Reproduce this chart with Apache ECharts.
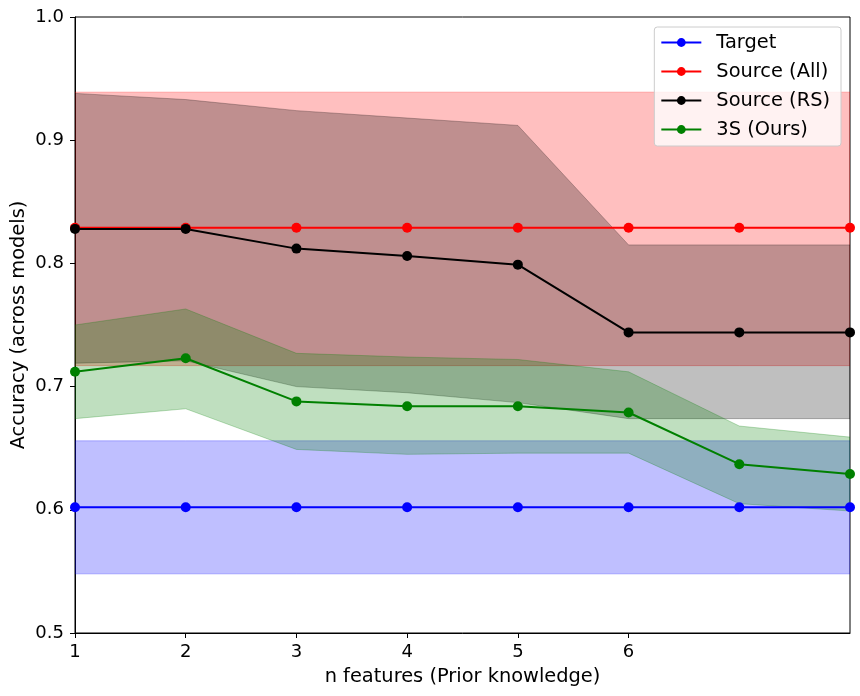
<!DOCTYPE html>
<html>
<head>
<meta charset="utf-8">
<script src="https://cdn.jsdelivr.net/npm/echarts@6/dist/echarts.min.js"></script>
<style>
html, body { margin: 0; padding: 0; background: #fff; }
#main { width: 860px; height: 696px; }
</style>
</head>
<body>
<div id="main"></div>
<script>
var chartDom = document.getElementById('main');
var myChart = echarts.init(chartDom);
var option;

// x values (n features) and the ticks that get labels
var nFeatures = [1, 2, 3, 4, 5, 6, 7, 8];
var tickFeatures = [1, 2, 3, 4, 5, 6];

// Target
var targetMean = [0.602, 0.602, 0.602, 0.602, 0.602, 0.602, 0.602, 0.602];
var targetLow = [0.548, 0.548, 0.548, 0.548, 0.548, 0.548, 0.548, 0.548];
var targetHigh = [0.656, 0.656, 0.656, 0.656, 0.656, 0.656, 0.656, 0.656];

// Source (All)
var allMean = [0.829, 0.829, 0.829, 0.829, 0.829, 0.829, 0.829, 0.829];
var allLow = [0.717, 0.717, 0.717, 0.717, 0.717, 0.717, 0.717, 0.717];
var allHigh = [0.939, 0.939, 0.939, 0.939, 0.939, 0.939, 0.939, 0.939];

// Source (RS)
var rsMean = [0.828, 0.828, 0.812, 0.806, 0.799, 0.744, 0.744, 0.744];
var rsLow = [0.719, 0.721, 0.700, 0.695, 0.687, 0.674, 0.674, 0.674];
var rsHigh = [0.938, 0.933, 0.924, 0.918, 0.912, 0.815, 0.815, 0.815];

// 3S (Ours)
var oursMean = [0.712, 0.723, 0.688, 0.684, 0.684, 0.679, 0.637, 0.629];
var oursLow = [0.674, 0.682, 0.649, 0.645, 0.646, 0.646, 0.605, 0.599];
var oursHigh = [0.750, 0.763, 0.727, 0.724, 0.722, 0.712, 0.668, 0.659];

var font = 'DejaVu Sans';

function pairs(ys) {
    return nFeatures.map(function (x, i) { return [x, ys[i]]; });
}

function meanSeries(name, ys, color) {
    return {
        name: name,
        type: 'line',
        data: pairs(ys),
        symbol: 'circle',
        symbolSize: 10,
        itemStyle: { color: color },
        lineStyle: { color: color, width: 2 },
        z: 5
    };
}

// fill_between-like band: one polygon, upper edge then lower edge reversed
function bandSeries(id, low, high, rgb) {
    var fill = 'rgba(' + rgb + ',0.25)';
    return {
        name: id + ' band',
        type: 'custom',
        silent: true,
        clip: true,
        z: 1,
        data: nFeatures.map(function (x, i) { return [x, low[i], high[i]]; }),
        encode: { x: 0, y: [1, 2] },
        renderItem: function (params, api) {
            if (params.dataIndex !== 0) return;
            var pts = [];
            for (var i = 0; i < nFeatures.length; i++) {
                pts.push(api.coord([nFeatures[i], high[i]]));
            }
            for (var j = nFeatures.length - 1; j >= 0; j--) {
                pts.push(api.coord([nFeatures[j], low[j]]));
            }
            return {
                type: 'polygon',
                shape: { points: pts },
                style: { fill: fill, stroke: fill, lineWidth: 1 }
            };
        }
    };
}

var series = [
    bandSeries('target', targetLow, targetHigh, '0,0,255'),
    bandSeries('all', allLow, allHigh, '255,0,0'),
    bandSeries('rs', rsLow, rsHigh, '0,0,0'),
    bandSeries('ours', oursLow, oursHigh, '0,128,0'),
    meanSeries('Target', targetMean, '#0000ff'),
    meanSeries('Source (All)', allMean, '#ff0000'),
    meanSeries('Source (RS)', rsMean, '#000000'),
    meanSeries('3S (Ours)', oursMean, '#008000')
];

option = {
    animation: false,
    backgroundColor: '#fff',
    textStyle: { fontFamily: font },
    grid: {
        left: 75,
        right: 10,
        top: 17,
        bottom: 63,
        containLabel: false,
        outerBoundsMode: 'none',
        show: true,
        borderColor: '#000',
        borderWidth: 1
    },
    legend: {
        data: ['Target', 'Source (All)', 'Source (RS)', '3S (Ours)'],
        orient: 'vertical',
        right: 19,
        top: 27,
        itemWidth: 40,
        itemHeight: 11,
        itemGap: 10,
        padding: [6, 11, 7, 6],
        backgroundColor: 'rgba(255,255,255,0.8)',
        borderColor: '#cccccc',
        borderWidth: 1,
        borderRadius: 3,
        textStyle: {
            fontFamily: font,
            fontSize: 19.4,
            color: '#000',
            padding: [0, 0, 0, 10]
        }
    },
    xAxis: {
        type: 'value',
        min: 1,
        max: 8,
        interval: 1,
        name: 'n features (Prior knowledge)',
        nameLocation: 'middle',
        nameGap: 34,
        nameMoveOverlap: false,
        nameTextStyle: { fontFamily: font, fontSize: 19.4, color: '#000' },
        splitLine: { show: false },
        axisLine: { show: true, lineStyle: { color: '#000', width: 1 } },
        axisTick: {
            show: true,
            customValues: tickFeatures,
            length: 5,
            lineStyle: { color: '#000' }
        },
        axisLabel: {
            customValues: tickFeatures,
            fontFamily: font,
            fontSize: 18,
            color: '#000',
            margin: 10
        }
    },
    yAxis: {
        type: 'value',
        min: 0.5,
        max: 1.0,
        interval: 0.1,
        name: 'Accuracy (across models)',
        nameLocation: 'middle',
        nameGap: 47,
        nameMoveOverlap: false,
        nameTextStyle: { fontFamily: font, fontSize: 19.4, color: '#000' },
        splitLine: { show: false },
        axisLine: { show: true, lineStyle: { color: '#000', width: 1 } },
        axisTick: { show: true, length: 5, lineStyle: { color: '#000' } },
        axisLabel: {
            fontFamily: font,
            fontSize: 18,
            color: '#000',
            margin: 11,
            formatter: function (v) { return v.toFixed(1); }
        }
    },
    series: series
};

option && myChart.setOption(option);
</script>
</body>
</html>
